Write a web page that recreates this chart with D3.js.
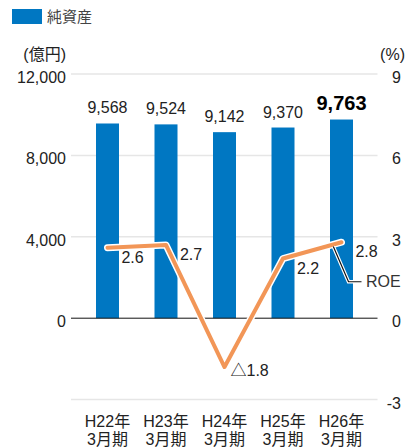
<!DOCTYPE html>
<html>
<head>
<meta charset="utf-8">
<script src="https://cdn.jsdelivr.net/npm/d3@7"></script>
<style>
  html, body { margin: 0; padding: 0; background: #fff; }
  svg { display: block; }
  text { font-family: "Liberation Sans", Arial, "Noto Sans CJK JP", sans-serif; fill: #222; }
</style>
</head>
<body>
<svg id="chart" width="407" height="447"></svg>
<script>
// Fiscal periods (two-line labels)
const periods = ["H22年|3月期", "H23年|3月期", "H24年|3月期", "H25年|3月期", "H26年|3月期"];
// Net assets, 100 million yen
const netAssets = [9568, 9524, 9142, 9370, 9763];
// Return on equity, %
const roe = [2.6, 2.7, -1.8, 2.2, 2.8];
// Axis ticks
const leftTicks = [0, 4000, 8000, 12000];
const rightTicks = [-3, 0, 3, 6, 9];
const gridTicks = [-4000, 0, 4000, 8000, 12000];

const BAR = "#0077c2";
const LINE = "#f29657";

const svg = d3.select("#chart");
const plot = { left: 71, right: 377.5, top: 74, bottom: 399.6 };

const x = d3.scaleBand()
  .domain(periods)
  .range([78.25, 370.75])
  .paddingInner(0.6068)
  .paddingOuter(0.3034);
const yL = d3.scaleLinear().domain([-4000, 12000]).range([plot.bottom, plot.top]);
const yR = d3.scaleLinear().domain([-3, 9]).range([plot.bottom, plot.top]);
const cx = d => x(d) + x.bandwidth() / 2;

// Legend
svg.append("rect").attr("x", 12).attr("y", 9).attr("width", 30).attr("height", 15).attr("fill", BAR);
svg.append("text").attr("x", 47).attr("y", 21.5).attr("font-size", 15).style("fill", "#444").text("純資産");

// Unit captions
svg.append("text").attr("x", 66).attr("y", 60).attr("text-anchor", "end").attr("font-size", 16).text("(億円)");
svg.append("text").attr("x", 405).attr("y", 60).attr("text-anchor", "end").attr("font-size", 16).text("(%)");

// Gridlines
svg.append("g").selectAll("line").data(gridTicks.filter(v => v !== 0)).join("line")
  .attr("x1", plot.left).attr("x2", plot.right)
  .attr("y1", d => yL(d)).attr("y2", d => yL(d))
  .attr("stroke", "#e6e6e6").attr("stroke-width", 1.5);

// Axes
const axL = svg.append("g").attr("transform", "translate(66,0)")
  .call(d3.axisLeft(yL).tickValues(leftTicks).tickSize(0).tickPadding(0).tickFormat(d3.format(",")));
const axR = svg.append("g").attr("transform", "translate(401,0)")
  .call(d3.axisRight(yR).tickValues(rightTicks).tickSize(0).tickPadding(0).tickFormat(d => d));
[axL, axR].forEach(ax => {
  ax.select(".domain").remove();
  ax.selectAll("text").attr("font-size", 16).attr("font-family", null).attr("dy", "0.53em").style("fill", "#222");
});
axR.selectAll("text").attr("text-anchor", "end").attr("x", 0);

// Bars
svg.append("g").selectAll("rect").data(netAssets).join("rect")
  .attr("x", (d, i) => x(periods[i]))
  .attr("width", x.bandwidth())
  .attr("y", d => yL(d))
  .attr("height", d => yL(0) - yL(d))
  .attr("fill", BAR);

// Bar value labels (latest period emphasised)
svg.append("g").selectAll("text").data(netAssets).join("text")
  .attr("x", (d, i) => cx(periods[i]))
  .attr("y", d => yL(d) - 10)
  .attr("text-anchor", "middle")
  .attr("font-size", (d, i) => i === netAssets.length - 1 ? 20 : 16)
  .attr("font-weight", (d, i) => i === netAssets.length - 1 ? "bold" : "normal")
  .style("fill", (d, i) => i === netAssets.length - 1 ? "#000" : "#222")
  .text(d => d3.format(",")(d));

// Zero baseline
svg.append("line").attr("x1", plot.left).attr("x2", plot.right)
  .attr("y1", yL(0)).attr("y2", yL(0)).attr("stroke", "#111").attr("stroke-width", 1);

// ROE line with white halo
const pts = roe.map((v, i) => [cx(periods[i]), yR(v)]);
const line = d3.line();
svg.append("path").attr("d", line(pts)).attr("fill", "none")
  .attr("stroke", "#fff").attr("stroke-width", 7).attr("stroke-linejoin", "round").attr("stroke-linecap", "round");
svg.append("path").attr("d", line(pts)).attr("fill", "none")
  .attr("stroke", LINE).attr("stroke-width", 4).attr("stroke-linejoin", "round").attr("stroke-linecap", "round");

// ROE value labels
const fmtRoe = v => v < 0 ? "△" + d3.format(".1f")(-v) : d3.format(".1f")(v);
svg.append("g").selectAll("text").data(roe).join("text")
  .attr("x", (d, i) => d < 0 ? pts[i][0] + 6 : pts[i][0] + 25)
  .attr("y", (d, i) => d < 0 ? pts[i][1] + 9 : pts[i][1] + 15)
  .attr("text-anchor", d => d < 0 ? "start" : "middle")
  .attr("font-size", 16)
  .text(fmtRoe);

// Series callout for the ROE line
const n = pts.length - 1;
const t = 0.86;
const start = [pts[n - 1][0] + t * (pts[n][0] - pts[n - 1][0]), pts[n - 1][1] + t * (pts[n][1] - pts[n - 1][1]) + 2];
const elbowY = pts[n][1] + 39.5;
const leader = [start, [pts[n][0] + 7, elbowY], [pts[n][0] + 20, elbowY]];
svg.append("path").attr("d", line(leader)).attr("fill", "none")
  .attr("stroke", "#fff").attr("stroke-width", 3.5);
svg.append("path").attr("d", line(leader)).attr("fill", "none")
  .attr("stroke", "#111").attr("stroke-width", 1.2);
svg.append("text").attr("x", pts[n][0] + 24.5).attr("y", elbowY + 5.5)
  .attr("font-size", 16).style("fill", "#333").text("ROE");

// Category labels
const xl = svg.append("g").selectAll("text").data(periods).join("text")
  .attr("x", d => cx(d))
  .attr("y", 427)
  .attr("text-anchor", "middle")
  .attr("font-size", 16);
xl.selectAll("tspan").data(d => d.split("|")).join("tspan")
  .attr("x", function() { return d3.select(this.parentNode).attr("x"); })
  .attr("dy", (d, i) => i === 0 ? 0 : 18)
  .text(d => d);
</script>
</body>
</html>
